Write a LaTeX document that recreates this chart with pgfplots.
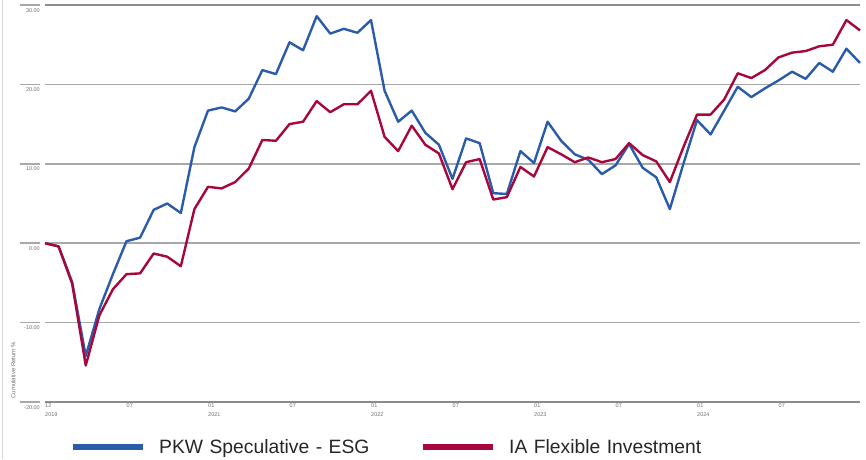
\documentclass[border=0pt]{standalone}
\usepackage{pgfplots}
\usepackage{pgfplotstable}
\pgfplotsset{compat=1.18}
\usepackage{fontspec}
\setmainfont{Liberation Sans}
\newfontfamily\tickfont{Liberation Sans}
\definecolor{pkwblue}{HTML}{2B5CAA}
\definecolor{iared}{HTML}{A8073D}
\definecolor{gridgray}{HTML}{A8A8A8}
\definecolor{ticktext}{HTML}{707070}

\pgfplotstableread{
i pkw ia
0 0 0
1 -0.4 -0.4
2 -4.9 -5.1
3 -14.2 -15.4
4 -8.3 -9.1
5 -3.9 -5.8
6 0.25 -3.9
7 0.7 -3.8
8 4.2 -1.3
9 5.0 -1.7
10 3.8 -2.9
11 12.1 4.3
12 16.7 7.1
13 17.1 6.9
14 16.6 7.7
15 18.2 9.4
16 21.8 13.0
17 21.3 12.9
18 25.3 15.0
19 24.3 15.3
20 28.6 17.9
21 26.4 16.5
22 27.0 17.5
23 26.5 17.5
24 28.1 19.2
25 19.2 13.4
26 15.3 11.6
27 16.7 14.8
28 13.9 12.4
29 12.4 11.3
30 8.1 6.8
31 13.2 10.2
32 12.6 10.6
33 6.3 5.5
34 6.2 5.8
35 11.6 9.6
36 10.1 8.4
37 15.3 12.1
38 12.9 11.2
39 11.2 10.2
40 10.5 10.8
41 8.7 10.2
42 9.8 10.6
43 12.5 12.6
44 9.5 11.1
45 8.3 10.3
46 4.3 7.7
47 10.0 12.1
48 15.5 16.2
49 13.7 16.2
50 16.7 18.1
51 19.7 21.4
52 18.4 20.8
53 19.5 21.8
54 20.5 23.4
55 21.6 24.0
56 20.7 24.2
57 22.7 24.8
58 21.6 25.0
59 24.5 28.1
60 22.7 26.8
}\datatable

\begin{document}
\begin{tikzpicture}[x=1pt,y=1pt]
\useasboundingbox (0,0) rectangle (866,459);
\draw[black!15, line width=1pt] (2,0) -- (2,459);
\begin{axis}[
  at={(45pt,57pt)}, anchor=south west,
  scale only axis, width=815pt, height=397pt,
  xmin=0, xmax=60, ymin=-20, ymax=30,
  clip=false,
  axis line style={draw=none},
  ytick={-20,-10,0,10,20,30},
  yticklabels={-20.00,-10.00,0.00,10.00,20.00,30.00},
  ymajorgrids,
  major grid style={gridgray, line width=1.6pt},
  tick style={draw=none},
  yticklabel style={font=\tickfont\fontsize{5.5}{6}\selectfont, text=ticktext, anchor=north east, inner sep=0pt, xshift=-5pt, yshift=-3pt},
  xtick={0,6,...,54},
  xticklabels={{12\\2019},07,{01\\2021},07,{01\\2022},07,{01\\2023},07,{01\\2024},07},
  xticklabel style={font=\tickfont\fontsize{5.5}{9}\selectfont, text=ticktext, align=left, anchor=north west, inner sep=0pt, yshift=-1pt},
  ylabel={Cumulative Return \%},
  ylabel style={at={(axis description cs:-0.039,0.08)}, anchor=center, font=\tickfont\fontsize{6}{6}\selectfont, text=ticktext},
  legend columns=2,
  legend style={at={(axis description cs:0.0307,-0.1134)}, anchor=west, draw=none, fill=none, inner sep=0pt,
    nodes={inner sep=0pt, text width=250pt, font=\fontsize{19.3}{21}\selectfont, text=black!85},
    /tikz/every odd column/.append style={column sep=13pt},
    /tikz/every even column/.append style={column sep=11pt}},
  legend image code/.code={\draw[#1, line width=6pt, line cap=butt] (0pt,0pt) -- (70pt,0pt);},
]
\addplot[pkwblue, line width=2.4pt, line join=round] table[x=i, y=pkw] {\datatable};
\addlegendentry{PKW Speculative - ESG}
\addplot[iared, line width=2.4pt, line join=round] table[x=i, y=ia] {\datatable};
\addlegendentry{IA Flexible Investment}
\pgfplotsinvokeforeach{-20,-10,0,10,20,30}{\draw[gridgray, line width=1.6pt] (axis cs:0,#1) ++(-25pt,0pt) -- ++(20pt,0pt);}
\draw[black!45, line width=1.8pt] (axis cs:0,-20) -- (axis cs:60,-20);
\draw[black!45, line width=1.6pt] (axis cs:0,30) -- (axis cs:60,30);
\end{axis}
\end{tikzpicture}
\end{document}
